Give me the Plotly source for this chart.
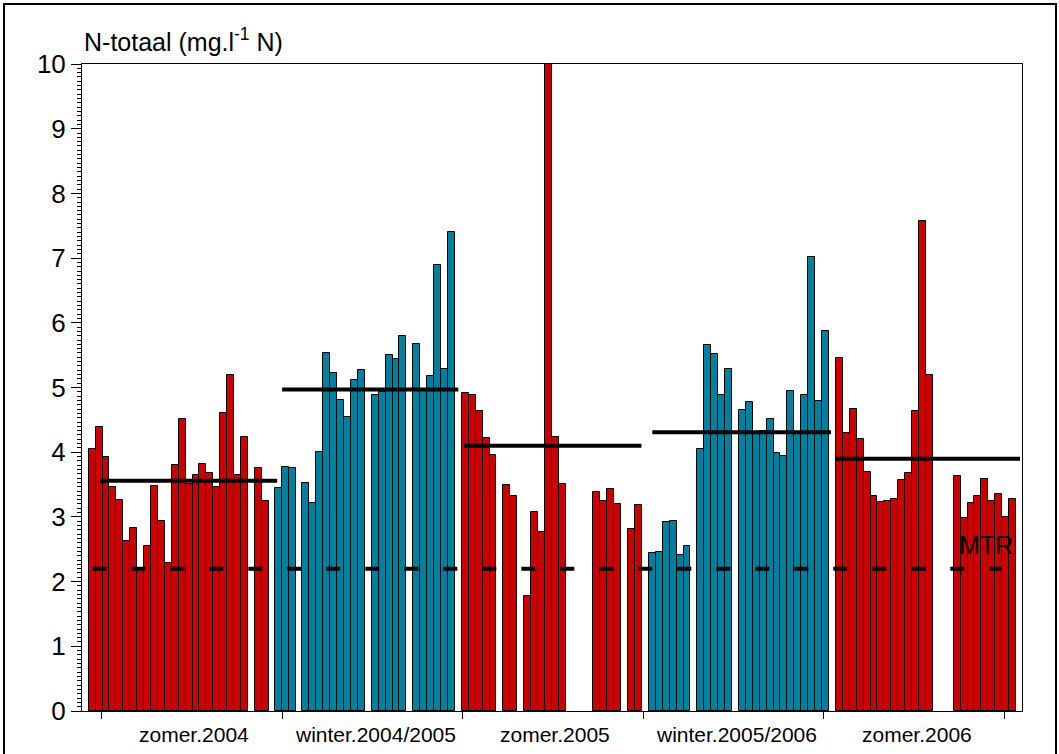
import plotly.graph_objects as go
from datetime import date, timedelta

# ---- sample dates and N-totaal values (mg/l N) per season ----
zomer_2004_dates = ["2004-03-23", "2004-03-30", "2004-04-06", "2004-04-13", "2004-04-20",
                    "2004-04-27", "2004-05-04", "2004-05-11", "2004-05-18", "2004-05-25",
                    "2004-06-01", "2004-06-08", "2004-06-15", "2004-06-22", "2004-06-29",
                    "2004-07-06", "2004-07-13", "2004-07-20", "2004-07-27", "2004-08-03",
                    "2004-08-10", "2004-08-17", "2004-08-24", "2004-09-07", "2004-09-14"]
zomer_2004_values = [4.05, 4.39, 3.93, 3.46, 3.26, 2.62, 2.83, 2.18, 2.55, 3.47,
                     2.93, 2.29, 3.80, 4.52, 3.51, 3.65, 3.81, 3.68, 3.46, 4.61,
                     5.19, 3.64, 4.23, 3.76, 3.25]

winter_2004_dates = ["2004-09-27", "2004-10-04", "2004-10-11", "2004-10-25", "2004-11-01",
                     "2004-11-08", "2004-11-15", "2004-11-22", "2004-11-29", "2004-12-06",
                     "2004-12-13", "2004-12-20", "2005-01-03", "2005-01-10", "2005-01-17",
                     "2005-01-24", "2005-01-31", "2005-02-14", "2005-02-21", "2005-02-28",
                     "2005-03-07", "2005-03-14", "2005-03-21"]
winter_2004_values = [3.44, 3.77, 3.76, 3.53, 3.22, 4.01, 5.53, 5.22, 4.81, 4.54,
                      5.11, 5.27, 4.89, 4.93, 5.50, 5.44, 5.80, 5.68, 4.97, 5.18,
                      6.89, 5.29, 7.40]

zomer_2005_dates = ["2005-04-04", "2005-04-11", "2005-04-18", "2005-04-25", "2005-05-02",
                    "2005-05-16", "2005-05-23", "2005-06-06", "2005-06-13", "2005-06-20",
                    "2005-06-27", "2005-07-04", "2005-07-11", "2005-08-15", "2005-08-22",
                    "2005-08-29", "2005-09-05", "2005-09-19", "2005-09-26"]
zomer_2005_values = [4.91, 4.88, 4.64, 4.22, 3.95, 3.50, 3.32, 1.77, 3.07, 2.76,
                     10.4, 4.24, 3.51, 3.38, 3.24, 3.43, 3.20, 2.81, 3.19]

winter_2005_dates = ["2005-10-10", "2005-10-17", "2005-10-24", "2005-10-31", "2005-11-07",
                     "2005-11-14", "2005-11-28", "2005-12-05", "2005-12-12", "2005-12-19",
                     "2005-12-26", "2006-01-09", "2006-01-16", "2006-01-23", "2006-01-30",
                     "2006-02-06", "2006-02-13", "2006-02-20", "2006-02-27", "2006-03-06",
                     "2006-03-13", "2006-03-20", "2006-03-27", "2006-04-03"]
winter_2005_values = [2.44, 2.46, 2.92, 2.93, 2.41, 2.55, 4.05, 5.65, 5.52, 4.88,
                      5.28, 4.65, 4.78, 4.30, 4.33, 4.52, 3.99, 3.94, 4.95, 4.30,
                      4.88, 7.02, 4.79, 5.88]

zomer_2006_dates = ["2006-04-17", "2006-04-24", "2006-05-01", "2006-05-08", "2006-05-15",
                    "2006-05-22", "2006-05-29", "2006-06-05", "2006-06-12", "2006-06-19",
                    "2006-06-26", "2006-07-03", "2006-07-10", "2006-07-17", "2006-08-14",
                    "2006-08-21", "2006-08-28", "2006-09-04", "2006-09-11", "2006-09-18",
                    "2006-09-25", "2006-10-02", "2006-10-09"]
zomer_2006_values = [5.46, 4.30, 4.67, 4.21, 3.69, 3.33, 3.23, 3.25, 3.28, 3.57,
                     3.68, 4.64, 7.58, 5.20, 3.63, 2.98, 3.21, 3.32, 3.59, 3.24,
                     3.36, 3.00, 3.27]

# season averages: (start, end, level)
mean_starts = ["2004-03-31", "2004-10-01", "2005-04-02 17:00", "2005-10-10", "2006-04-13"]
mean_ends = ["2004-09-26", "2005-03-28", "2005-09-29", "2006-04-08 12:00", "2006-10-16 12:00"]
mean_levels = [3.56, 4.97, 4.10, 4.31, 3.90]

# MTR norm
mtr_level = 2.2
mtr_span = ["2004-03-23 05:00", "2006-09-28"]

season_labels = ["zomer.2004", "winter.2004/2005", "zomer.2005", "winter.2005/2006", "zomer.2006"]
season_bounds = ["2004-04-01", "2004-10-01", "2005-04-01", "2005-10-01", "2006-04-01", "2006-10-01"]

RED = "#CC0000"
TEAL = "#00809F"
FONT = "Arial, Liberation Sans, sans-serif"
WEEK_MS = 7 * 24 * 3600 * 1000

series = [
    (zomer_2004_dates, zomer_2004_values, RED),
    (winter_2004_dates, winter_2004_values, TEAL),
    (zomer_2005_dates, zomer_2005_values, RED),
    (winter_2005_dates, winter_2005_values, TEAL),
    (zomer_2006_dates, zomer_2006_values, RED),
]

fig = go.Figure()

for dates, values, colour in series:
    fig.add_trace(go.Bar(
        x=dates, y=values, width=[WEEK_MS] * len(dates),
        marker=dict(color=colour, line=dict(color="#000000", width=1)),
        showlegend=False, hoverinfo="x+y",
    ))

# MTR dashed line
fig.add_trace(go.Scatter(
    x=mtr_span, y=[mtr_level, mtr_level], mode="lines",
    line=dict(color="#000000", width=4, dash="14px,25px"),
    showlegend=False, hoverinfo="skip",
))

# season average lines
for x0, x1, lvl in zip(mean_starts, mean_ends, mean_levels):
    fig.add_trace(go.Scatter(
        x=[x0, x1], y=[lvl, lvl], mode="lines",
        line=dict(color="#000000", width=4),
        showlegend=False, hoverinfo="skip",
    ))

annotations = []
# season labels between the boundary ticks
for i, lab in enumerate(season_labels):
    a = date.fromisoformat(season_bounds[i])
    b = date.fromisoformat(season_bounds[i + 1])
    mid = a + (b - a) / 2
    annotations.append(dict(
        x=mid.isoformat(), y=-0.037, xref="x", yref="paper", text=lab,
        showarrow=False, xanchor="center", yanchor="middle", xshift=3,
        font=dict(family=FONT, size=21, color="#000000"),
    ))

annotations.append(dict(
    x=0, y=1.037, xref="paper", yref="paper",
    text="N-totaal (mg.l<sup>-1</sup> N)", showarrow=False,
    xanchor="left", yanchor="middle",
    font=dict(family=FONT, size=25, color="#000000"),
))
annotations.append(dict(
    x="2006-09-12 12:00", y=2.57, xref="x", yref="y", text="MTR",
    showarrow=False, xanchor="center", yanchor="middle",
    font=dict(family=FONT, size=25, color="#000000"),
))

L, R, T, B = 82, 37, 64, 43
W, H = 1059, 754
pw, ph = W - L - R, H - T - B

fig.update_layout(
    width=W, height=H,
    margin=dict(l=L, r=R, t=T, b=B, pad=0),
    paper_bgcolor="#FFFFFF", plot_bgcolor="#FFFFFF",
    barmode="overlay", bargap=0,
    annotations=annotations,
    shapes=[dict(
        type="rect", xref="paper", yref="paper",
        x0=(4 - L) / pw, x1=(1056 - L) / pw,
        y0=(H - B - 770) / ph, y1=(H - B - 4) / ph,
        line=dict(color="#000000", width=2), fillcolor="rgba(0,0,0,0)", layer="above",
    )],
    xaxis=dict(
        type="date", range=["2004-03-12 19:00", "2006-10-18 12:00"],
        showgrid=False, zeroline=False,
        showline=True, linecolor="#000000", linewidth=1, mirror=True,
        tickmode="array", tickvals=season_bounds, showticklabels=False,
        ticks="outside", ticklen=7, tickwidth=1, tickcolor="#000000",
    ),
    yaxis=dict(
        range=[0, 10], showgrid=False, zeroline=False,
        showline=True, linecolor="#000000", linewidth=1, mirror=True,
        tickmode="linear", tick0=0, dtick=1,
        ticks="outside", ticklen=10, tickwidth=1, tickcolor="#000000",
        tickfont=dict(family=FONT, size=26, color="#000000"),
        minor=dict(ticks="outside", ticklen=4, tickwidth=1, tickcolor="#000000",
                   dtick=1 / 15, showgrid=False),
    ),
)

fig.write_html("out.html")
